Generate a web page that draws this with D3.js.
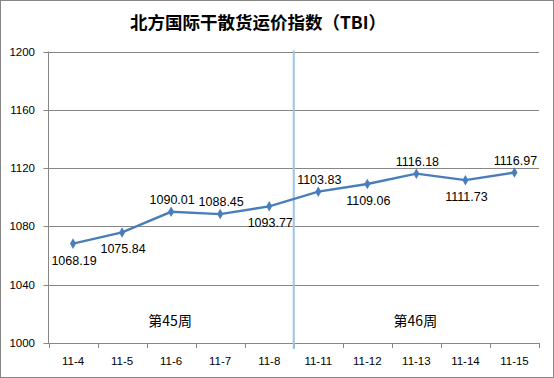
<!DOCTYPE html>
<html>
<head>
<meta charset="utf-8">
<script src="https://cdn.jsdelivr.net/npm/d3@7/dist/d3.min.js"></script>
<style>
  body { margin: 0; background: #fff; }
  svg text { font-family: "Liberation Sans", "Noto Sans CJK SC", sans-serif; }
</style>
</head>
<body>
<div id="chart"></div>
<script>
var dates = ["11-4", "11-5", "11-6", "11-7", "11-8", "11-11", "11-12", "11-13", "11-14", "11-15"];
var tbi = [1068.19, 1075.84, 1090.01, 1088.45, 1093.77, 1103.83, 1109.06, 1116.18, 1111.73, 1116.97];
var labelPos = ["below", "below", "above", "above", "below", "above", "below", "above", "below", "above"];
var weeks = ["第45周", "第46周"];
var yTicks = [1000, 1040, 1080, 1120, 1160, 1200];

var width = 554, height = 378;
var margin = {top: 51.5, left: 48.5, right: 15, bottom: 35};

var svg = d3.select("#chart").append("svg")
    .attr("width", width)
    .attr("height", height);

// outer border
svg.append("rect")
    .attr("x", 0.5).attr("y", 0.5)
    .attr("width", width - 1).attr("height", height - 1)
    .attr("fill", "#fff")
    .attr("stroke", "#868686");

svg.append("text")
    .attr("x", 258).attr("y", 29)
    .attr("text-anchor", "middle")
    .style("font-family", "'Noto Sans CJK SC', sans-serif")
    .style("font-size", "17.5px")
    .style("font-weight", "bold")
    .text("北方国际干散货运价指数（TBI）");

var x = d3.scaleBand()
    .domain(dates)
    .range([margin.left, width - margin.right]);

var y = d3.scaleLinear()
    .domain([1000, 1200])
    .range([height - margin.bottom, margin.top]);

// gridlines
svg.append("g")
    .selectAll("line")
    .data(yTicks)
    .join("line")
    .attr("x1", margin.left - 5)
    .attr("x2", width - margin.right)
    .attr("y1", function(d) { return Math.round(y(d)) + 0.5; })
    .attr("y2", function(d) { return Math.round(y(d)) + 0.5; })
    .attr("stroke", "#868686");

svg.append("g")
    .selectAll("text")
    .data(yTicks)
    .join("text")
    .attr("x", 35)
    .attr("y", function(d) { return y(d) + 4; })
    .attr("text-anchor", "end")
    .style("font-size", "11.5px")
    .attr("fill", "#000")
    .text(function(d) { return d; });

// y axis line
svg.append("line")
    .attr("x1", margin.left).attr("x2", margin.left)
    .attr("y1", y(1200)).attr("y2", y(1000))
    .attr("stroke", "#868686");

// x axis ticks
var bounds = dates.map(function(d) { return x(d); }).concat([x.range()[1]]);
svg.append("g")
    .selectAll("line")
    .data(bounds)
    .join("line")
    .attr("x1", function(d) { return Math.round(d) + 0.5; })
    .attr("x2", function(d) { return Math.round(d) + 0.5; })
    .attr("y1", y(1000))
    .attr("y2", y(1000) + 5)
    .attr("stroke", "#868686");

svg.append("g")
    .selectAll("text")
    .data(dates)
    .join("text")
    .attr("x", function(d) { return x(d) + x.bandwidth() / 2; })
    .attr("y", y(1000) + 22)
    .attr("text-anchor", "middle")
    .style("font-size", "11.5px")
    .text(function(d) { return d; });

// week divider
var divX = x("11-11");
svg.append("line")
    .attr("x1", divX).attr("x2", divX)
    .attr("y1", y(1200) - 1).attr("y2", y(1000) + 6)
    .attr("stroke", "#9dc3e6")
    .attr("stroke-width", 2);

// week labels
var weekCenters = [(x("11-4") + divX) / 2 - 1, (divX + x.range()[1]) / 2 - 1];
svg.append("g")
    .selectAll("text")
    .data(weeks)
    .join("text")
    .attr("x", function(d, i) { return weekCenters[i]; })
    .attr("y", y(1000) - 17)
    .attr("text-anchor", "middle")
    .style("font-family", "'Noto Sans CJK SC', sans-serif")
    .style("font-size", "14px")
    .text(function(d) { return d; });

// series line
var line = d3.line()
    .x(function(d, i) { return x(dates[i]) + x.bandwidth() / 2; })
    .y(function(d) { return y(d); });

svg.append("path")
    .datum(tbi)
    .attr("d", line)
    .attr("fill", "none")
    .attr("stroke", "#4a7ebb")
    .attr("stroke-width", 2.4);

svg.append("g")
    .selectAll("path")
    .data(tbi)
    .join("path")
    .attr("transform", function(d, i) {
        return "translate(" + (x(dates[i]) + x.bandwidth() / 2) + "," + y(d) + ")";
    })
    .attr("d", d3.symbol().type(d3.symbolDiamond).size(32))
    .attr("fill", "#4a7ebb");

svg.append("g")
    .selectAll("text")
    .data(tbi)
    .join("text")
    .attr("x", function(d, i) { return x(dates[i]) + x.bandwidth() / 2 + 1; })
    .attr("y", function(d, i) { return y(d) + (labelPos[i] === "below" ? 21 : -8); })
    .attr("text-anchor", "middle")
    .style("font-size", "12.5px")
    .text(function(d) { return d.toFixed(2); });
</script>
</body>
</html>
